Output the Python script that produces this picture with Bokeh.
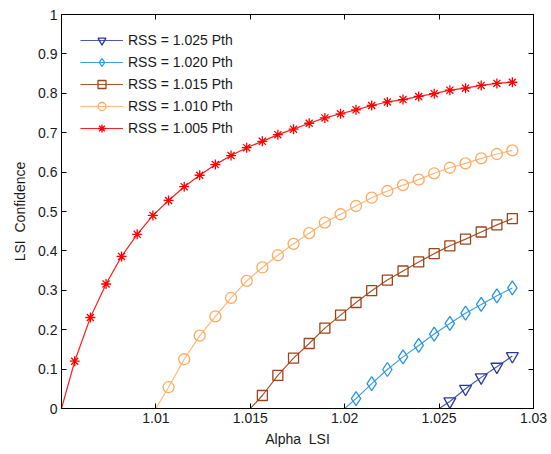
from bokeh.plotting import figure
from bokeh.models import LinearAxis, FixedTicker, Range1d
from bokeh.embed import file_html
from bokeh.resources import INLINE

# ---- data ----
alpha = [1.00570, 1.00653, 1.00736, 1.00818, 1.00901, 1.00984, 1.01067, 1.01150,
         1.01232, 1.01315, 1.01398, 1.01481, 1.01564, 1.01646, 1.01729, 1.01812,
         1.01895, 1.01978, 1.02060, 1.02143, 1.02226, 1.02309, 1.02392, 1.02474,
         1.02557, 1.02640, 1.02723, 1.02806, 1.02888]

labels = ["RSS = 1.025 Pth", "RSS = 1.020 Pth", "RSS = 1.015 Pth",
          "RSS = 1.010 Pth", "RSS = 1.005 Pth"]
rss = [1.025, 1.020, 1.015, 1.010, 1.005]
start_index = [24, 18, 12, 6, 0]

conf_1025 = [0.018, 0.050, 0.079, 0.106, 0.133]
conf_1020 = [0.025, 0.063, 0.099, 0.131, 0.160, 0.189, 0.216, 0.242, 0.264, 0.286, 0.306]
conf_1015 = [0.033, 0.084, 0.128, 0.165, 0.204, 0.237, 0.269, 0.299, 0.326, 0.349,
             0.372, 0.393, 0.413, 0.430, 0.448, 0.466, 0.482]
conf_1010 = [0.054, 0.125, 0.185, 0.234, 0.281, 0.324, 0.358, 0.389, 0.418, 0.445,
             0.472, 0.493, 0.514, 0.535, 0.552, 0.567, 0.581, 0.597, 0.611, 0.622,
             0.635, 0.646, 0.655]
conf_1005 = [0.120, 0.231, 0.316, 0.386, 0.442, 0.490, 0.528, 0.563, 0.592, 0.619,
             0.642, 0.662, 0.678, 0.695, 0.709, 0.724, 0.7375, 0.748, 0.758, 0.769,
             0.778, 0.784, 0.792, 0.799, 0.808, 0.813, 0.820, 0.825, 0.828]
series = [conf_1025, conf_1020, conf_1015, conf_1010, conf_1005]

x_ticks = [1.01, 1.015, 1.02, 1.025, 1.03]
x_tick_labels = ["1.01", "1.015", "1.02", "1.025", "1.03"]
y_ticks = [0, 0.1, 0.2, 0.3, 0.4, 0.5, 0.6, 0.7, 0.8, 0.9, 1]
y_tick_labels = ["0", "0.1", "0.2", "0.3", "0.4", "0.5", "0.6", "0.7", "0.8", "0.9", "1"]

line_colors = ["#4a5cb0", "#3fa0e0", "#a8552a", "#ffb878", "#ff1f1f"]
marker_colors = ["#2a3a9a", "#2a95e0", "#9c4418", "#ffaa60", "#ff0000"]
markers = ["inverted_triangle", "diamond", "square", "circle", "asterisk"]
marker_sizes = [12, 14, 10, 11, 10]

FONT = "Liberation Sans"

p = figure(width=548, height=450, output_backend="svg", toolbar_location=None,
           x_range=Range1d(1.005, 1.03), y_range=Range1d(0, 1),
           min_border_left=61, min_border_right=15, min_border_top=14,
           min_border_bottom=42)
p.background_fill_color = "white"
p.border_fill_color = "white"
p.outline_line_color = "black"
p.grid.visible = False

for lab, r, si, ys, lc, mc, mk, ms in zip(labels, rss, start_index, series,
                                          line_colors, marker_colors, markers, marker_sizes):
    xs = alpha[si:si + len(ys)]
    p.line([r] + xs, [0] + ys, line_color=lc, line_width=1.2, legend_label=lab)
    p.scatter(xs, ys, marker=mk, size=ms, line_color=mc, fill_color=None,
              line_width=1.3, legend_label=lab)

def style_axis(ax, show_labels=True):
    ax.axis_line_color = "black"
    ax.axis_line_width = 1
    ax.major_tick_in = 5
    ax.major_tick_out = 0
    ax.major_tick_line_color = "black"
    ax.minor_tick_line_color = None
    ax.major_label_text_font = FONT
    ax.major_label_text_color = "#1a1a1a"
    if show_labels:
        ax.major_label_text_font_size = "14px"
        ax.major_label_standoff = 4
    else:
        ax.major_label_text_font_size = "0px"
        ax.major_label_standoff = 0

xt = FixedTicker(ticks=x_ticks)
yt = FixedTicker(ticks=y_ticks)

p.xaxis.ticker = xt
p.yaxis.ticker = yt
p.xaxis.major_label_overrides = dict(zip(x_ticks, x_tick_labels))
p.yaxis.major_label_overrides = dict(zip(y_ticks, y_tick_labels))
style_axis(p.xaxis[0])
style_axis(p.yaxis[0])
p.xaxis.axis_label = "Alpha\u00a0 LSI"
p.yaxis.axis_label = "LSI\u00a0 Confidence"
for ax in (p.xaxis[0], p.yaxis[0]):
    ax.axis_label_text_font = FONT
    ax.axis_label_text_font_size = "14px"
    ax.axis_label_text_font_style = "normal"
    ax.axis_label_text_color = "#1a1a1a"
p.xaxis.axis_label_standoff = 5
p.yaxis.axis_label_standoff = 7

top = LinearAxis(ticker=FixedTicker(ticks=x_ticks))
style_axis(top, show_labels=False)
top.major_label_overrides = {t: "" for t in x_ticks}
p.add_layout(top, "above")
right = LinearAxis(ticker=FixedTicker(ticks=y_ticks))
style_axis(right, show_labels=False)
right.major_label_overrides = {t: "" for t in y_ticks}
p.add_layout(right, "right")

lg = p.legend[0]
lg.location = (19, 270)
lg.border_line_color = None
lg.background_fill_alpha = 0
lg.label_text_font = FONT
lg.label_text_font_size = "14px"
lg.label_text_color = "#1a1a1a"
lg.glyph_width = 43
lg.glyph_height = 20
lg.label_height = 20
lg.label_standoff = 5
lg.spacing = 2
lg.padding = 5
lg.margin = 0

open("out.html", "w").write(file_html(p, INLINE))
